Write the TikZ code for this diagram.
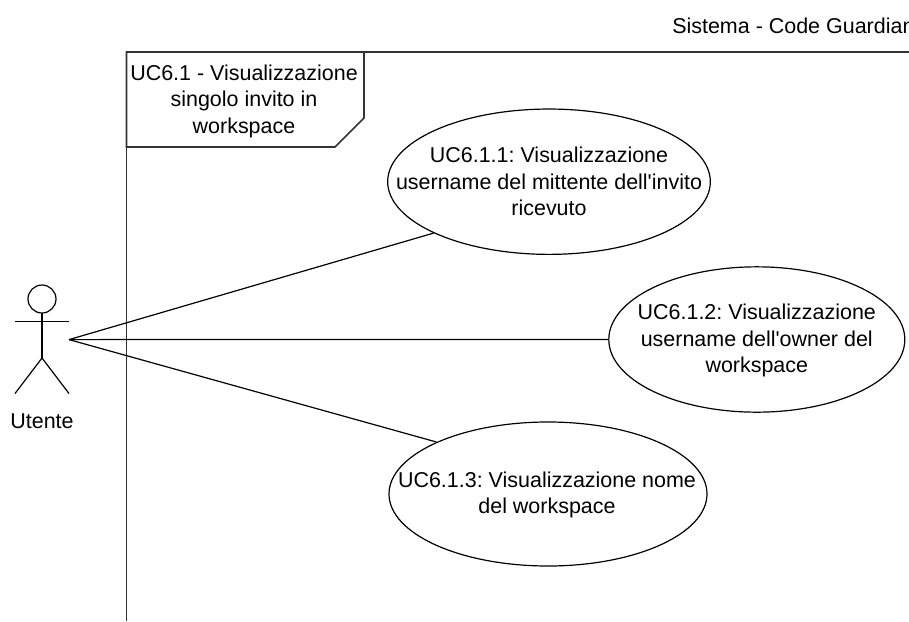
\documentclass[tikz,border=0pt]{standalone}
\usepackage{fontspec}
\setmainfont{Liberation Sans}
\usetikzlibrary{shapes.geometric}
\begin{document}
\begin{tikzpicture}[x=0.75pt, y=-0.75pt,
    case style/.style={draw, ellipse, line width=0.9pt, inner sep=0pt, minimum width=242pt, minimum height=109pt},
    frame style/.style={draw=black!80, line width=1.2pt},
    text style/.style={align=center, font=\fontsize{16.1}{19.9}\selectfont\frenchspacing},]
    \useasboundingbox (0,0) rectangle (909,621);

    \coordinate (hand) at (69,339.6);
    \coordinate (head) at (42,299);
    \coordinate (hip) at (42,358);

    % frame
    \draw[style=frame style] (909,52) -- (126.5,52) -- (126.5,621);
    \draw[style=frame style] (126.5,52) -- (364,52) -- (364,118) -- (335,147) -- (126.5,147) -- cycle;
    \node[style=text style] (frametitle) at (244,101) {UC6.1 - Visualizzazione\\singolo invito in\\workspace};
    \node[style=text style, anchor=west, inner sep=0pt] (system) at (672,26) {Sistema - Code Guardian};

    % actor
    \draw[line width=0.9pt] (head) circle (14);
    \draw[line width=0.9pt] (head) ++(0,14) -- (hip);
    \draw[line width=0.9pt] (15,321.7) -- (69,321.7);
    \draw[line width=0.9pt] (15,393.5) -- (hip) -- (69,393.5);
    \node[style=text style] (actor) at (42,421) {Utente};

    % use cases
    \node[style=case style] (uc1) at (549,181.7) {};
    \node[style=case style, minimum width=222pt] (uc2) at (756.8,339.5) {};
    \node[style=case style, minimum width=238.5pt, minimum height=108pt] (uc3) at (548,494) {};
    \node[style=text style] (uc1text) at (uc1) {UC6.1.1: Visualizzazione\\username del mittente dell\textquotesingle invito\\ricevuto};
    \node[style=text style] (uc2text) at (756.8,340.5) {UC6.1.2: Visualizzazione\\username dell\textquotesingle owner del\\workspace};
    \node[style=text style] (uc3text) at (547,495) {UC6.1.3: Visualizzazione nome\\del workspace};

    \draw[line width=0.9pt] (hand) -- (uc1.204.6);
    \draw[line width=0.9pt] (hand) -- (uc2.west);
    \draw[line width=0.9pt] (hand) -- (uc3.155.7);
\end{tikzpicture}
\end{document}
